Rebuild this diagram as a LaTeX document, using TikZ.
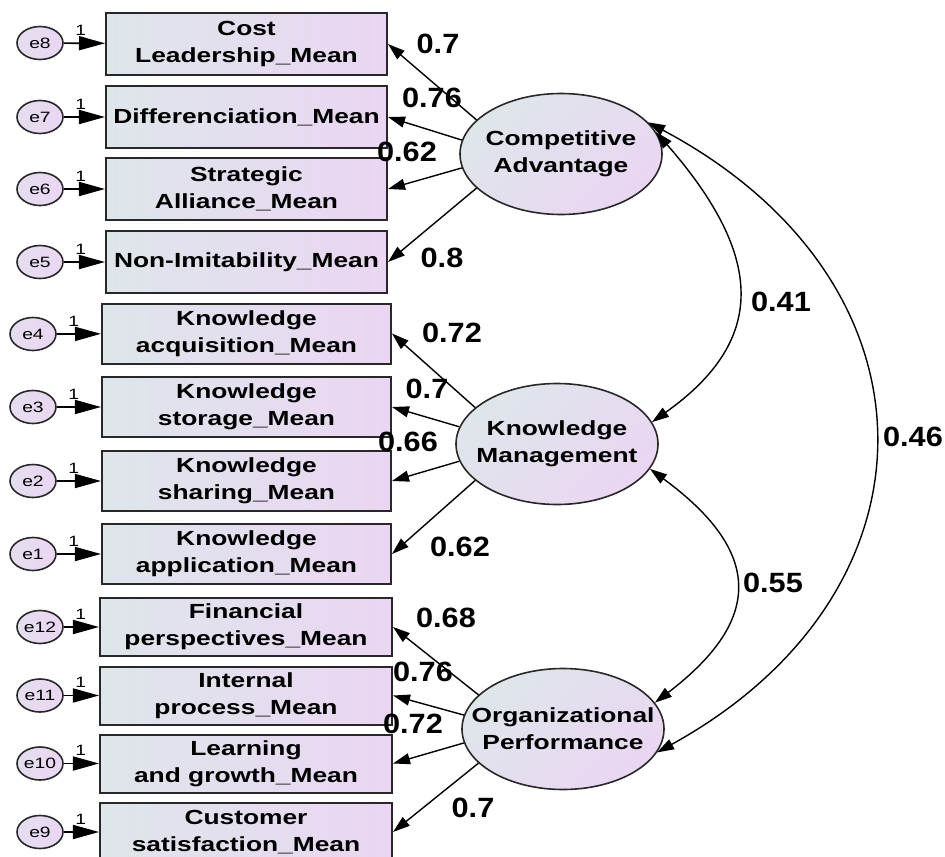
\documentclass[tikz,border=0pt]{standalone}
\usepackage{fontspec}
\setmainfont{Liberation Sans}[FakeStretch=1.29]
\newfontfamily\numfont{Liberation Sans}[FakeStretch=1.1]
\usetikzlibrary{shapes.geometric,arrows.meta}
\definecolor{lcol}{RGB}{222,230,234}
\definecolor{rcol}{RGB}{234,214,243}
\definecolor{edgec}{RGB}{40,40,40}
\begin{document}
\begin{tikzpicture}[x=1bp,y=-1bp,
  obs/.style={draw=edgec, line width=2bp, left color=lcol, right color=rcol, minimum height=62bp, inner sep=0pt, align=center, font=\bfseries\fontsize{20.5}{27}\selectfont},
  lat/.style={ellipse, draw=edgec, line width=1.6bp, left color=lcol, right color=rcol, shading angle=45, minimum width=202bp, minimum height=121bp, inner ysep=0pt, inner xsep=-30bp, align=center, font=\bfseries\fontsize{20.5}{27}\selectfont},
  err/.style={ellipse, draw=edgec, line width=1.6bp, left color=lcol!50!rcol, right color=rcol, minimum width=46bp, minimum height=33bp, inner sep=0pt, font=\fontsize{15}{17}\selectfont},
  erra/.style={line width=1.7bp, -{Triangle[length=26bp,width=14bp]}},
  load/.style={line width=1.4bp, -{Triangle[length=17bp,width=11bp]}},
  cov/.style={line width=1.4bp, {Triangle[length=17bp,width=11bp]}-{Triangle[length=17bp,width=11bp]}},
  coef/.style={font=\numfont\bfseries\fontsize{28}{30}\selectfont, inner sep=0pt},
  one/.style={font=\fontsize{15}{16}\selectfont, inner sep=0pt}]
\useasboundingbox (0,0) rectangle (945,857);
\fill[white] (0,0) rectangle (945,857);

% observed variables
\node[obs, minimum width=281bp] (c1) at (246.5,44) {Cost\\Leadership\_Mean};
\node[obs, minimum width=281bp] (c2) at (246.5,117) {Differenciation\_Mean};
\node[obs, minimum width=281bp] (c3) at (246.5,189) {Strategic\\Alliance\_Mean};
\node[obs, minimum width=281bp] (c4) at (246.5,262) {Non-Imitability\_Mean};

\node[obs, minimum width=289bp, minimum height=60bp] (k1) at (246.5,333.5) {Knowledge\\acquisition\_Mean};
\node[obs, minimum width=289bp, minimum height=60bp] (k2) at (246.5,407) {Knowledge\\storage\_Mean};
\node[obs, minimum width=289bp, minimum height=60bp] (k3) at (246.5,481) {Knowledge\\sharing\_Mean};
\node[obs, minimum width=289bp, minimum height=60bp] (k4) at (246.5,554) {Knowledge\\application\_Mean};

\node[obs, minimum width=292bp, minimum height=58bp] (o1) at (246,627) {Financial\\perspectives\_Mean};
\node[obs, minimum width=292bp, minimum height=58bp] (o2) at (246,695.5) {Internal\\process\_Mean};
\node[obs, minimum width=292bp, minimum height=58bp] (o3) at (246,763.5) {Learning\\and growth\_Mean};
\node[obs, minimum width=292bp, minimum height=58bp] (o4) at (246,832) {Customer\\satisfaction\_Mean};

% error terms
\node[err] (e8) at (40,43) {e8};
\node[err] (e7) at (40,117) {e7};
\node[err] (e6) at (40,189) {e6};
\node[err] (e5) at (40,262) {e5};
\node[err] (e4) at (33,334) {e4};
\node[err] (e3) at (33,407) {e3};
\node[err] (e2) at (33,481) {e2};
\node[err] (e1) at (33,554) {e1};
\node[err] (e12) at (40,627) {e12};
\node[err] (e11) at (40,695.5) {e11};
\node[err] (e10) at (40,763.5) {e10};
\node[err] (e9) at (40,832) {e9};

\foreach \e/\b in {e8/c1,e7/c2,e6/c3,e5/c4,e4/k1,e3/k2,e2/k3,e1/k4,e12/o1,e11/o2,e10/o3,e9/o4}{
  \draw[erra] (\e) -- (\b);
  \node[one] at ([shift={(17,-13)}]\e.east) {1};
}

% latent variables
\node[lat] (CA) at (561,154) {Competitive\\Advantage};
\node[lat] (KM) at (557,444) {Knowledge\\Management};
\node[lat] (OP) at (563,729) {Organizational\\Performance};

% loadings
\draw[load] (CA.158) -- (c1.east);
\draw[load] (CA.172) -- (c2.east);
\draw[load] (CA.188) -- (c3.east);
\draw[load] (CA.202) -- (c4.east);
\draw[load] (KM.156) -- (k1.east);
\draw[load] (KM.170) -- (k2.east);
\draw[load] (KM.190) -- (k3.east);
\draw[load] (KM.204) -- (k4.east);
\draw[load] (OP.158) -- (o1.east);
\draw[load] (OP.172) -- (o2.east);
\draw[load] (OP.188) -- (o3.east);
\draw[load] (OP.202) -- (o4.east);

% covariances
\draw[cov] (CA.13) .. controls (766,258) and (766,341) .. (KM.13);
\draw[cov] (KM.-15) .. controls (763,552) and (763,620) .. (OP.16);
\draw[cov] (CA.20) .. controls (948,282) and (948,592) .. (OP.-14);

% coefficients
\node[coef] at (438,44) {0.7};
\node[coef] at (432,98) {0.76};
\node[coef] at (407,152) {0.62};
\node[coef] at (442,258) {0.8};
\node[coef] at (452,333) {0.72};
\node[coef] at (427,389) {0.7};
\node[coef] at (408,442) {0.66};
\node[coef] at (460,547) {0.62};
\node[coef] at (446,618) {0.68};
\node[coef] at (423,672) {0.76};
\node[coef] at (413,724) {0.72};
\node[coef] at (473,808) {0.7};
\node[coef] at (781,302) {0.41};
\node[coef] at (773,583) {0.55};
\node[coef] at (913,437) {0.46};
\end{tikzpicture}
\end{document}
